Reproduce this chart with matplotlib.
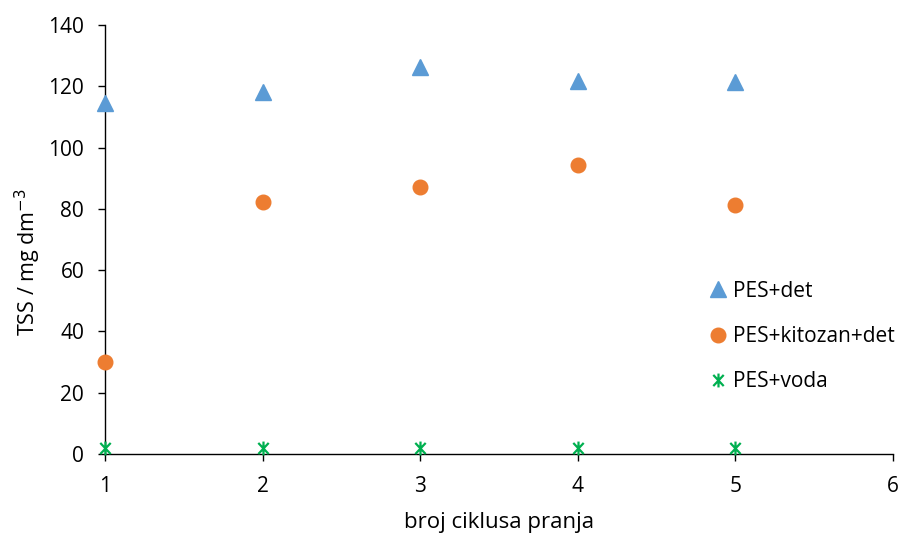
import matplotlib
matplotlib.use('Agg')
import matplotlib.pyplot as plt
from matplotlib.path import Path

plt.rcParams['font.family'] = ['Open Sans', 'DejaVu Sans']
plt.rcParams.update({'font.size': 15})

# data
cycles = [1, 2, 3, 4, 5]
pes_det = [114.5, 118.1, 126.3, 121.7, 121.4]
pes_kitozan_det = [30.0, 82.2, 87.1, 94.3, 81.3]
pes_voda = [2.0, 2.0, 2.0, 2.0, 2.0]

# excel-style star marker: X with a vertical line
star = Path([(0, -1), (0, 1), (-0.75, -0.8), (0.75, 0.8), (-0.75, 0.8), (0.75, -0.8)],
            [Path.MOVETO, Path.LINETO, Path.MOVETO, Path.LINETO, Path.MOVETO, Path.LINETO])

fig = plt.figure(figsize=(9.03, 5.36), dpi=100)
ax = fig.add_axes([0.1163, 0.153, 0.8726, 0.8004])

ax.plot(cycles, pes_det, linestyle='none', marker='^', markersize=11,
        color='#5B9BD5', label='PES+det', clip_on=False, zorder=3)
ax.plot(cycles, pes_kitozan_det, linestyle='none', marker='o', markersize=10.5,
        color='#ED7D31', label='PES+kitozan+det', clip_on=False, zorder=3)
ax.plot(cycles, pes_voda, linestyle='none', marker=star, markersize=10, markeredgewidth=1.6,
        color='#00B050', label='PES+voda', clip_on=False, zorder=3)

ax.set_xlim(1, 6)
ax.set_ylim(0, 140)
ax.set_xticks([1, 2, 3, 4, 5, 6])
ax.set_yticks(range(0, 141, 20))
for s in ['top', 'right']:
    ax.spines[s].set_visible(False)
for s in ['left', 'bottom']:
    ax.spines[s].set_linewidth(1.0)
    ax.spines[s].set_color('black')
ax.tick_params(direction='out', length=5, width=1.0, colors='black', labelsize=15)
ax.tick_params(axis='y', pad=10)
ax.tick_params(axis='x', pad=10.5)

ax.set_xlabel('broj ciklusa pranja', fontsize=16, labelpad=11)
ax.set_ylabel('TSS / mg dm$^{-3}$', fontsize=15.5)
ax.yaxis.set_label_coords(-0.079, 0.447)

ax.legend(loc='center left', bbox_to_anchor=(0.7386, 0.2737), frameon=False,
          labelspacing=1.17, handletextpad=0.1, handlelength=1.2, fontsize=15)

fig.savefig('out.png', dpi=100)
